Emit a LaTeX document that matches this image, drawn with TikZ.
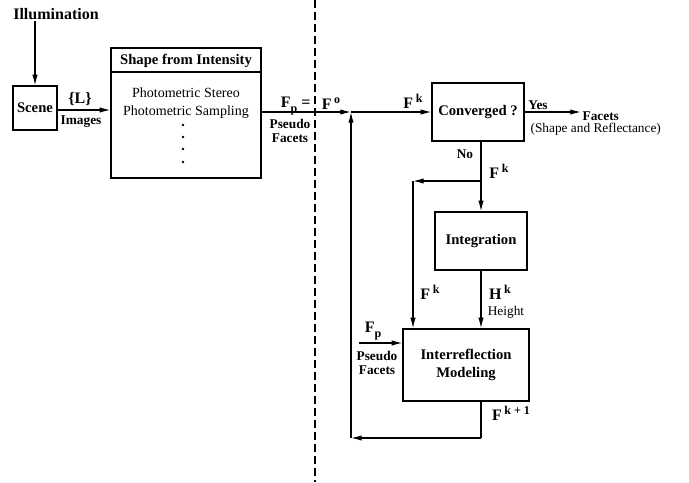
\documentclass[tikz,border=0pt]{standalone}
\usepackage{fontspec}
\setmainfont{Liberation Serif}
\usetikzlibrary{arrows.meta, positioning, calc}
\tikzset{
  box/.style={
    rectangle, draw, line width=0.9pt,
    inner sep=0pt, align=center,
    font=\fontsize{11}{13}\selectfont\bfseries
  },
  boxText/.style={font=\fontsize{10.5}{12}\selectfont, inner sep=1pt},
  arr/.style={-{Latex[length=8pt, width=4pt]}, line width=0.9pt},
  lbl/.style={font=\fontsize{10}{11}\selectfont, inner sep=1pt, align=center},
  lblB/.style={lbl, font=\fontsize{10}{11}\selectfont\bfseries},
  sym/.style={font=\fontsize{12}{14}\selectfont\bfseries, inner sep=1pt},
  divider/.style={dash pattern=on 6pt off 3pt, line width=1.1pt},
}
\newcommand{\Fsup}[1]{F\,\raisebox{0.8ex}{\fontsize{9}{10}\selectfont\bfseries #1}}
\newcommand{\Fsub}[1]{F\raisebox{-0.6ex}{\fontsize{9}{10}\selectfont\bfseries #1}}

\begin{document}
\begin{tikzpicture}[x=0.75pt, y=-0.75pt]
\useasboundingbox (0,0) rectangle (689,482);

% ---- Nodes ----------------------------------------------------
\node[font=\fontsize{12}{14}\selectfont\bfseries, inner sep=1pt] (illum) at (56,14) {Illumination};
\node[box, minimum width=33pt, minimum height=33pt] (scene) at (35,108) {Scene};

\node[box, minimum width=112.5pt, minimum height=97.5pt] (sfi) at (186,113) {};
\node[box, draw=none] (sfiHead) at (186,61) {Shape from Intensity};
\node[boxText] (stereo) at (186,93) {Photometric Stereo};
\node[boxText] (sampling) at (186,112) {Photometric Sampling};

\node[box, minimum width=69pt, minimum height=43.5pt] (conv) at (478,112) {Converged ?};
\node[box, minimum width=69pt, minimum height=43.5pt] (integ) at (481,241) {Integration};
\node[box, minimum width=94.5pt, minimum height=54pt] (inter) at (466,365) {Interreflection\\Modeling};

\node[lblB, anchor=west] (facets) at (581,116) {Facets};
\node[lbl, anchor=west] (shape) at (529,129) {(Shape and Reflectance)};

% ---- Junctions ------------------------------------------------
\coordinate (jn) at (351,112);
\coordinate (split) at (481,181);
\coordinate (left) at (413,181);
\coordinate (fb) at (351,438);
\coordinate (fpIn) at (359,343);

% ---- Arrows ---------------------------------------------------
\draw[arr] (illum.south -| scene.north) -- (scene.north);
\draw[arr] (scene.east |- 0,110) -- (sfi.west |- 0,110);
\draw[line width=0.9pt] (sfi.west |- 0,72) -- (sfi.east |- 0,72);
\draw[arr] (sfi.east |- jn) -- (jn);
\draw[arr] (jn) -- (conv.west |- jn);
\draw[arr] (conv.east |- 0,112) -- (facets.west |- 0,112);
\draw[line width=0.9pt] (integ.north |- conv.south) -- (split);
\draw[arr] (split) -- (integ.north);
\draw[arr] (split) -- (left);
\draw[arr] (left) -- (left |- inter.north);
\draw[arr] (integ.south) -- (integ.south |- inter.north);
\draw[arr] (fpIn) -- (inter.west |- fpIn);
\draw[line width=0.9pt] (integ.south |- inter.south) -- (integ.south |- fb);
\draw[arr] (integ.south |- fb) -- (fb);
\draw[arr] (fb) -- (jn);

% ---- Labels ---------------------------------------------------
\node[sym] (lSet) at (80,99) {\{L\}};
\node[lblB] (lImages) at (81,122) {Images};
\node[sym] (lFp) at (289,106) {\Fsub{p}};
\node[sym] (lEq) at (306,104) {=};
\node[sym] (lFo) at (331,104) {\Fsup{o}};
\node[lblB] (lPseudo) at (290,131) {Pseudo\\Facets};
\node[sym] (lFk) at (413,101) {\Fsup{k}};
\node[lblB] (lYes) at (538,105) {Yes};
\node[lblB] (lNo) at (465,154) {No};
\node[sym] (lFkDown) at (499,171) {\Fsup{k}};
\node[sym] (lFkLeft) at (430,292) {\Fsup{k}};
\node[sym] (lHk) at (500,292) {H\,\raisebox{0.8ex}{\fontsize{9}{10}\selectfont\bfseries k}};
\node[lbl] (lHeight) at (506,312) {Height};
\node[sym] (lFpIn) at (373,331) {\Fsub{p}};
\node[lblB] (lPseudoIn) at (377,363) {Pseudo\\Facets};
\node[sym] (lFk1) at (511,413) {\Fsup{k + 1}};

% ---- Dots and divider -----------------------------------------
\foreach \y in {125,137,149,162}
  \fill (183,\y) circle (1pt);
\draw[divider] (315,0) -- (315,482);

\end{tikzpicture}
\end{document}
